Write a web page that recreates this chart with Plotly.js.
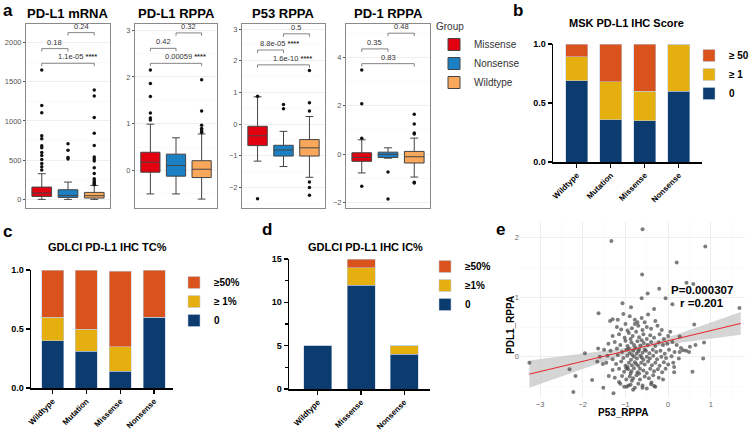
<!DOCTYPE html>
<html><head><meta charset="utf-8">
<script src="https://cdn.plot.ly/plotly-3.0.1.min.js"></script>
<style>html,body{margin:0;padding:0;background:#fff}#chart{width:750px;height:431px}</style>
</head><body><div id="chart"></div>
<script>
// ---------------- DATA ----------------
const groups = ['Missense', 'Nonsense', 'Wildtype'];
const groupColors = ['#e3000f', '#1b80c4', '#f9a75a'];

// panel a: box statistics [Missense, Nonsense, Wildtype]
const boxPanels = ['PD-L1 mRNA', 'PD-L1 RPPA', 'P53 RPPA', 'PD-1 RPPA'];
const q1Vals = [[38, 25, 17], [-0.036, -0.12, -0.15], [-0.68, -1.01, -1.01], [-0.30, -0.14, -0.37]];
const medianVals = [[81, 51, 47], [0.178, 0.107, 0.028], [-0.37, -0.82, -0.75], [-0.14, -0.01, -0.11]];
const q3Vals = [[157, 123, 89], [0.39, 0.35, 0.21], [-0.07, -0.67, -0.49], [0.055, 0.08, 0.11]];
const lowerVals = [[0, 0, 0], [-0.5, -0.5, -0.61], [-1.17, -1.34, -1.68], [-0.78, -0.17, -0.95]];
const upperVals = [[327, 221, 178], [0.99, 0.70, 0.78], [0.86, -0.23, 0.24], [0.59, 0.26, 0.66]];
const outlierVals = [
  [[1651, 1197, 1104, 811, 773, 683, 658, 598, 560, 509, 458, 416, 374],
   [709, 628, 535, 514],
   [1396, 1320, 1044, 845, 688, 539, 514, 488, 403, 331, 263, 238, 216, 200, 187]],
  [[2.15, 1.86, 1.58, 1.23, 1.12, 1.08], [], [1.94, 1.27, 0.97, 0.90, 0.87, 0.83, 0.81]],
  [[0.88, -2.36], [0.62, 0.48], [1.69, 0.67, 0.41, -1.83, -2.0, -2.25]],
  [[3.48, 2.08, 0.65, -1.33], [-0.74, -1.86], [1.65, 1.24, 0.87, 0.83, -1.16, -1.2]]
];
// comparisons: M-N, N-W, M-W
const bracketPairs = [[0, 1], [1, 2], [0, 2]];
const bracketY = [[1923, 2127, 1736], [2.61, 2.94, 2.29], [2.34, 2.85, 1.87], [4.35, 5.0, 3.74]];
const bracketP = [['0.18', '0.24', '1.1e-05'], ['0.42', '0.32', '0.00059'], ['8.8e-05', '0.5', '1.6e-10'], ['0.35', '0.48', '0.83']];
const bracketSig = [['', '', '****'], ['', '', '****'], ['****', '', '****'], ['', '', '']];
const boxRanges = [[-110, 2237], [-0.80, 3.13], [-2.65, 3.16], [-2.23, 5.38]];
const boxTicks = [[0, 500, 1000, 1500, 2000], [0, 1, 2, 3], [-2, -1, 0, 1, 2, 3], [-2, 0, 2, 4]];
const boxMinor = [250, 0.5, 0.5, 1];

// panel b: MSK PD-L1 IHC score (proportions)
const mskCats = ['Wildtype', 'Mutation', 'Missense', 'Nonsense'];
const msk0 = [0.69, 0.36, 0.35, 0.60];
const msk1 = [0.20, 0.32, 0.25, 0.40];
const msk50 = [0.11, 0.32, 0.40, 0.0];
const mskLabels = ['0', '≥ 1', '≥ 50'];

// panel c: GDLCI PD-L1 IHC TC%
const tcCats = ['Wildtype', 'Mutation', 'Missense', 'Nonsense'];
const tc0 = [0.40, 0.31, 0.14, 0.60];
const tc1 = [0.20, 0.19, 0.21, 0.0];
const tc50 = [0.40, 0.50, 0.64, 0.40];
const tcLabels = ['0', '≥ 1%', '≥50%'];

// panel d: GDLCI PD-L1 IHC IC% (counts)
const icCats = ['Wildtype', 'Missense', 'Nonsense'];
const ic0 = [5, 12, 4];
const ic1 = [0, 2, 1];
const ic50 = [0, 1, 0];
const icLabels = ['0', '≥1%', '≥50%'];

const stackColors = ['#0b3b6f', '#e5b00f', '#da521c'];

// panel e: P53_RPPA vs PDL1_RPPA
const p53Rppa = [-0.60,-1.33,0.87,0.20,-0.61,0.43,0.59,-0.21,-0.48,-0.62,-0.06,1.67,0.10,-1.63,-1.07,-1.36,-1.30,-0.87,-0.33,
  -3.25,-2.31,-2.17,-2.22,-1.95,-1.78,-1.64,-1.66,-1.53,-1.52,-1.28,-1.39,0.82,0.57,0.84,0.61,0.27,0.64,0.51,0.35,0.49,0.27,0.14,0.14,-0.12,-0.33,-0.39,-0.60,-1.03,-0.93,-1.15,
  -1.05,-0.90,-0.78,-0.62,-0.55,-0.47,-1.18,-0.30,-0.72,
  -1.20,-1.00,-0.85,-0.70,-0.60,-0.50,-0.40,-0.25,-0.95,-1.10,-0.15,-0.78,
  -1.30,-1.15,-1.02,-0.92,-0.83,-0.75,-0.68,-0.58,-0.50,-0.42,-0.33,-0.20,-0.10,0.00,-0.88,-0.62,0.05,
  -1.40,-1.25,-1.12,-1.00,-0.95,-0.86,-0.80,-0.72,-0.65,-0.57,-0.48,-0.40,-0.30,-0.22,-0.12,-0.02,0.10,-0.77,-0.55,0.20,
  -1.50,-1.35,-1.20,-1.08,-0.98,-0.90,-0.82,-0.74,-0.68,-0.60,-0.52,-0.44,-0.36,-0.28,-0.18,-0.08,0.02,0.15,0.30,0.42,-0.92,-0.70,
  -1.60,-1.42,-1.30,-1.18,-1.05,-0.96,-0.87,-0.80,-0.73,-0.65,-0.58,-0.50,-0.43,-0.35,-0.26,-0.16,-0.05,0.08,0.25,-0.84,-0.62,
  -1.45,-1.22,-1.10,-1.00,-0.92,-0.85,-0.78,-0.70,-0.63,-0.55,-0.47,-0.38,-0.30,-0.20,-0.10,0.00,0.12,-0.95,-0.75,
  -1.30,-1.15,-1.03,-0.94,-0.86,-0.80,-0.72,-0.66,-0.58,-0.50,-0.42,-0.33,-0.24,-0.14,-0.06,-0.88,-0.68,-0.98,
  -1.25,-1.08,-0.98,-0.90,-0.82,-0.74,-0.66,-0.55,-0.45,-0.35,-0.22,-0.85,
  -1.12,-0.97,-0.88,-0.78,-0.70,-0.60,-0.50,-0.40,-0.30,-0.82];
const pdl1Rppa = [2.14,1.94,1.85,1.58,1.38,1.24,1.22,1.14,1.06,0.98,0.98,0.82,0.88,0.73,0.90,0.60,0.63,0.83,0.80,
  -0.10,-0.21,-0.32,-0.59,0.06,-0.39,0.14,-0.08,-0.12,-0.52,-0.61,-0.32,-0.03,-0.25,0.24,0.54,0.34,0.20,0.17,0.11,0.08,0.08,-0.26,-0.17,-0.38,-0.49,-0.43,-0.52,-0.50,-0.48,-0.42,
  0.72,0.68,0.62,0.65,0.58,0.71,0.62,0.60,0.58,
  0.50,0.55,0.48,0.52,0.45,0.50,0.47,0.52,0.44,0.46,0.45,0.55,
  0.35,0.38,0.32,0.40,0.35,0.42,0.33,0.38,0.30,0.36,0.32,0.38,0.30,0.35,0.30,0.28,0.42,
  0.22,0.25,0.20,0.27,0.18,0.24,0.20,0.26,0.19,0.23,0.20,0.25,0.18,0.24,0.20,0.22,0.25,0.15,0.12,0.20,
  0.12,0.10,0.14,0.08,0.12,0.06,0.10,0.05,0.12,0.07,0.10,0.06,0.12,0.08,0.10,0.05,0.12,0.08,0.15,0.10,0.14,0.09,
  0.00,0.02,-0.04,0.03,-0.02,0.02,-0.05,0.00,-0.03,0.02,-0.05,0.00,-0.03,0.02,-0.04,0.00,-0.02,0.01,-0.03,0.03,-0.01,
  -0.10,-0.12,-0.08,-0.15,-0.10,-0.14,-0.09,-0.15,-0.10,-0.13,-0.08,-0.14,-0.10,-0.15,-0.09,-0.13,-0.10,-0.17,-0.12,
  -0.22,-0.20,-0.25,-0.21,-0.24,-0.19,-0.26,-0.20,-0.23,-0.27,-0.20,-0.24,-0.21,-0.26,-0.20,-0.28,-0.28,-0.19,
  -0.35,-0.32,-0.38,-0.33,-0.36,-0.31,-0.38,-0.33,-0.36,-0.31,-0.35,-0.40,
  -0.45,-0.50,-0.47,-0.52,-0.45,-0.48,-0.53,-0.46,-0.50,-0.55];
const fitX = [-3.25, 1.7];
const fitY = [-0.29, 0.56];
const bandX = [-3.25, -2.5, -2, -1.5, -1, -0.53, 0, 0.5, 1, 1.7];
const bandLo = [-0.52, -0.33, -0.20, -0.08, 0.04, 0.14, 0.21, 0.26, 0.31, 0.37];
const bandHi = [-0.06, 0.01, 0.055, 0.10, 0.15, 0.22, 0.33, 0.45, 0.58, 0.75];
const statText = ['P=0.000307', 'r =0.201'];
const scatterTitles = ['P53_RPPA', 'PDL1_RPPA'];

// ---------------- LAYOUT HELPERS ----------------
const W = 750, H = 431;
const FONT = 'Liberation Sans, Arial, sans-serif';
const px = v => v / W;
const py = v => 1 - v / H;
const traces = [];
const annotations = [];
const layout = {
  width: W, height: H, margin: {l: 0, r: 0, t: 0, b: 0, autoexpand: false},
  paper_bgcolor: '#fff', plot_bgcolor: 'rgba(0,0,0,0)',
  font: {family: FONT, color: '#000'},
  boxmode: 'overlay', barmode: 'stack', showlegend: true,
  hovermode: false
};

// panel a frames [left, right] px; top/bottom
const boxFrames = [[26, 110], [135, 217], [242, 325], [346, 430]];
const boxTop = 24, boxBottom = 208;

boxPanels.forEach((title, k) => {
  const s = k === 0 ? '' : String(k + 1);
  const xa = 'x' + s, ya = 'y' + s;
  layout['xaxis' + s] = {
    domain: [px(boxFrames[k][0]), px(boxFrames[k][1])], range: [-0.6, 2.6],
    showticklabels: false, ticks: '', showgrid: false, zeroline: false,
    showline: true, mirror: true, linecolor: '#8a8a8a', linewidth: 1,
    anchor: ya, fixedrange: true
  };
  layout['yaxis' + s] = {
    domain: [py(boxBottom), py(boxTop)], range: boxRanges[k],
    tickvals: boxTicks[k], ticks: 'outside', ticklen: 2, tickcolor: '#555',
    tickfont: {size: 7.5, color: '#555', family: FONT},
    showgrid: true, gridcolor: '#ececec', gridwidth: 0.8, zeroline: false,
    minor: {dtick: boxMinor[k], showgrid: true, gridcolor: '#f5f5f5', gridwidth: 0.6},
    showline: true, mirror: true, linecolor: '#8a8a8a', linewidth: 1,
    anchor: xa, fixedrange: true
  };
  groups.forEach((g, i) => {
    traces.push({
      type: 'box', name: g, x: [i], xaxis: xa, yaxis: ya,
      q1: [q1Vals[k][i]], median: [medianVals[k][i]], q3: [q3Vals[k][i]],
      lowerfence: [lowerVals[k][i]], upperfence: [upperVals[k][i]],
      fillcolor: groupColors[i], line: {color: '#444', width: 1},
      width: 0.75, whiskerwidth: 0.4, boxpoints: false,
      legendgroup: g, showlegend: k === 0, legend: 'legend'
    });
    const outs = outlierVals[k][i];
    if (outs.length) {
      traces.push({
        type: 'scatter', mode: 'markers', x: outs.map(() => i), y: outs,
        xaxis: xa, yaxis: ya, marker: {color: '#111', size: 3.5},
        showlegend: false, hoverinfo: 'skip'
      });
    }
  });
  const span = boxRanges[k][1] - boxRanges[k][0];
  const tip = span * 3 / (boxBottom - boxTop);
  bracketPairs.forEach((pr, j) => {
    const yb = bracketY[k][j];
    traces.push({
      type: 'scatter', mode: 'lines', x: [pr[0], pr[0], pr[1], pr[1]],
      y: [yb - tip, yb, yb, yb - tip], xaxis: xa, yaxis: ya,
      line: {color: '#666', width: 0.8}, showlegend: false, hoverinfo: 'skip'
    });
    const sig = bracketSig[k][j];
    annotations.push({
      xref: xa, yref: ya, x: (pr[0] + pr[1]) / 2, y: yb, yanchor: 'bottom', xanchor: 'center',
      yshift: 0, xshift: sig ? 9 : 0,
      text: bracketP[k][j] + (sig ? ' <b>' + sig + '</b>' : ''), showarrow: false,
      font: {size: 7.5, color: '#333', family: FONT}
    });
  });
  annotations.push({
    xref: 'paper', yref: 'paper', x: px((boxFrames[k][0] + boxFrames[k][1]) / 2), y: py(14),
    xanchor: 'center', yanchor: 'middle', text: title, showarrow: false,
    font: {size: 13, family: FONT, weight: 'bold', color: '#000'}
  });
});

layout.legend = {
  x: px(434), y: py(17), xanchor: 'left', yanchor: 'top',
  title: {text: 'Group', font: {size: 10, color: '#333', family: FONT}},
  font: {size: 10, color: '#333', family: FONT}, bgcolor: 'rgba(0,0,0,0)', tracegroupgap: 0
};

// stacked bars helper
function stackPanel(s, legendName, cats, series, labels, dom, xr, yr, yTicks, yText, minorDt) {
  const xa = 'x' + s, ya = 'y' + s;
  layout['xaxis' + s] = {
    domain: dom.x, range: xr, type: 'category', anchor: ya,
    tickangle: -45, ticks: 'outside', ticklen: 4, tickcolor: '#000', tickwidth: 1.2,
    tickfont: {size: 8, family: FONT, weight: 'bold', color: '#000'},
    showline: true, linecolor: '#000', linewidth: 1.5, showgrid: false, zeroline: false, fixedrange: true
  };
  const yax = {
    domain: dom.y, range: yr, anchor: xa, tickvals: yTicks, ticktext: yText,
    ticks: 'outside', ticklen: 4, tickcolor: '#000', tickwidth: 1.2,
    tickfont: {size: 9, family: FONT, weight: 'bold', color: '#000'},
    showline: true, linecolor: '#000', linewidth: 1.5, showgrid: false, zeroline: false, fixedrange: true
  };
  if (minorDt) yax.minor = {dtick: minorDt, ticks: 'outside', ticklen: 3, tickcolor: '#000', showgrid: false};
  layout['yaxis' + s] = yax;
  series.forEach((vals, i) => {
    traces.push({
      type: 'bar', x: cats, y: vals, name: labels[i], xaxis: xa, yaxis: ya,
      marker: {color: stackColors[i], line: {color: 'rgba(190,205,225,0.9)', width: 0.6}},
      width: 0.65, legend: legendName, hoverinfo: 'skip'
    });
  });
}

stackPanel('5', 'legend2', mskCats, [msk0, msk1, msk50], mskLabels,
  {x: [px(553), px(702)], y: [py(162), py(44)]}, [-0.7, 3.68], [0, 1], [0, 0.5, 1], ['0.0', '0.5', '1.0']);
stackPanel('6', 'legend3', tcCats, [tc0, tc1, tc50], tcLabels,
  {x: [px(31), px(173)], y: [py(388), py(270)]}, [-0.64, 3.56], [0, 1], [0, 0.5, 1], ['0.0', '0.5', '1.0']);
stackPanel('7', 'legend4', icCats, [ic0, ic1, ic50], icLabels,
  {x: [px(289), px(430)], y: [py(389), py(259)]}, [-0.67, 2.6], [0, 15], [0, 5, 10, 15], ['0', '5', '10', '15'], 2.5);

const legFont = {size: 10, family: FONT, weight: 'bold', color: '#000'};
layout.legend2 = {x: px(689), y: py(41), xanchor: 'left', yanchor: 'top', traceorder: 'reversed', font: legFont, bgcolor: 'rgba(0,0,0,0)'};
layout.legend3 = {x: px(174), y: py(268), xanchor: 'left', yanchor: 'top', traceorder: 'reversed', font: legFont, bgcolor: 'rgba(0,0,0,0)'};
layout.legend4 = {x: px(425), y: py(252), xanchor: 'left', yanchor: 'top', traceorder: 'reversed', font: legFont, bgcolor: 'rgba(0,0,0,0)'};

// panel e scatter
layout.xaxis8 = {
  domain: [px(520), px(745)], range: [-3.47, 1.8], anchor: 'y8',
  tickvals: [-3, -2, -1, 0, 1], ticks: '', tickfont: {size: 7.5, color: '#666', family: FONT},
  showgrid: true, gridcolor: '#ebebeb', gridwidth: 0.8, zeroline: false, showline: false,
  minor: {dtick: 0.5, showgrid: true, gridcolor: '#f6f6f6', gridwidth: 0.6},
  fixedrange: true
};
layout.yaxis8 = {
  domain: [py(398), py(222)], range: [-0.69, 2.26], anchor: 'x8',
  tickvals: [0, 1, 2], ticks: '', tickfont: {size: 7.5, color: '#666', family: FONT},
  showgrid: true, gridcolor: '#ebebeb', gridwidth: 0.8, zeroline: false, showline: false,
  minor: {dtick: 0.5, showgrid: true, gridcolor: '#f6f6f6', gridwidth: 0.6},
  fixedrange: true
};
traces.push({
  type: 'scatter', mode: 'lines', x: bandX, y: bandLo, xaxis: 'x8', yaxis: 'y8',
  line: {width: 0, color: 'rgba(0,0,0,0)'}, showlegend: false, hoverinfo: 'skip'
});
traces.push({
  type: 'scatter', mode: 'lines', x: bandX, y: bandHi, xaxis: 'x8', yaxis: 'y8', fill: 'tonexty',
  fillcolor: 'rgba(190,190,190,0.65)', line: {width: 0, color: 'rgba(0,0,0,0)'}, showlegend: false, hoverinfo: 'skip'
});
traces.push({
  type: 'scatter', mode: 'markers', x: p53Rppa, y: pdl1Rppa, xaxis: 'x8', yaxis: 'y8',
  marker: {color: 'rgba(70,70,70,0.7)', size: 4}, showlegend: false, hoverinfo: 'skip'
});
traces.push({
  type: 'scatter', mode: 'lines', x: fitX, y: fitY, xaxis: 'x8', yaxis: 'y8',
  line: {color: '#e8242a', width: 1}, showlegend: false, hoverinfo: 'skip'
});
annotations.push({xref: 'paper', yref: 'paper', x: px(702), y: py(290), text: statText[0], showarrow: false,
  xanchor: 'center', yanchor: 'middle', font: {size: 11.5, family: FONT, weight: 'bold', color: '#000'}});
annotations.push({xref: 'paper', yref: 'paper', x: px(702), y: py(303), text: statText[1], showarrow: false,
  xanchor: 'center', yanchor: 'middle', font: {size: 11.5, family: FONT, weight: 'bold', color: '#000'}});
// scatter axis titles
annotations.push({xref: 'paper', yref: 'paper', x: px(623), y: py(412), text: scatterTitles[0], showarrow: false,
  xanchor: 'center', yanchor: 'middle', font: {size: 10, family: FONT, weight: 'bold', color: '#000'}});
annotations.push({xref: 'paper', yref: 'paper', x: px(510), y: py(325), text: scatterTitles[1], showarrow: false,
  textangle: -90, xanchor: 'center', yanchor: 'middle', font: {size: 10, family: FONT, weight: 'bold', color: '#000'}});

// panel titles
[['MSK PD-L1 IHC Score', 626, 23], ['GDLCI PD-L1 IHC TC%', 107, 247], ['GDLCI PD-L1 IHC IC%', 365, 247]].forEach(t => {
  annotations.push({xref: 'paper', yref: 'paper', x: px(t[1]), y: py(t[2]), text: t[0], showarrow: false,
    xanchor: 'center', yanchor: 'middle', font: {size: 11, family: FONT, weight: 'bold', color: '#000'}});
});
// panel letters
[['a', 1, 10], ['b', 511, 10], ['c', 1, 231], ['d', 260, 229], ['e', 494, 230]].forEach(t => {
  annotations.push({xref: 'paper', yref: 'paper', x: px(t[1]), y: py(t[2]), text: t[0], showarrow: false,
    xanchor: 'left', yanchor: 'middle', font: {size: 17, family: FONT, weight: 'bold', color: '#000'}});
});

layout.annotations = annotations;
Plotly.newPlot('chart', traces, layout, {staticPlot: true, displayModeBar: false});
</script></body></html>
